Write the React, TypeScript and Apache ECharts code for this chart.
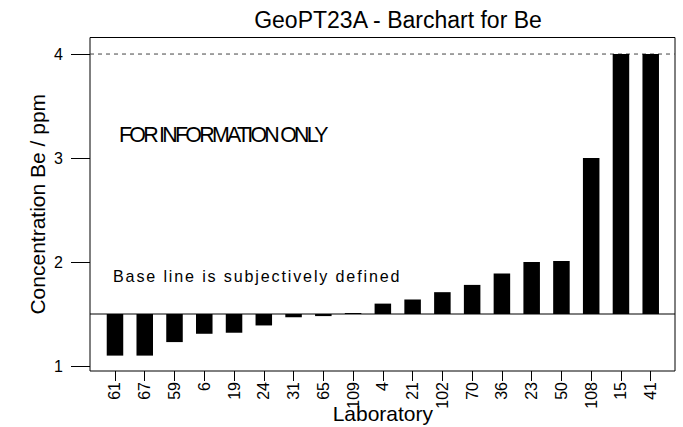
import React, { useEffect, useRef } from "react";
import * as echarts from "echarts";

// Laboratory codes, sorted by reported concentration
const laboratories = ["61", "67", "59", "6", "19", "24", "31", "65", "109", "4", "21", "102", "70", "36", "23", "50", "108", "15", "41"];
// Reported Be concentrations (ppm); values above the plotting cap are drawn at the cap
const concentrations = [1.1, 1.1, 1.23, 1.31, 1.32, 1.39, 1.47, 1.48, 1.51, 1.6, 1.64, 1.71, 1.78, 1.89, 2.0, 2.01, 3.0, 4.0, 4.0];
const yTickValues = [1, 2, 3, 4];
const baselineValue = 1.5;
const capValue = 4;
const yMin = 0.952;
const yMax = 4.159;

const FONT = '"Liberation Sans", Arial, Helvetica, sans-serif';

export default function App() {
  const ref = useRef<HTMLDivElement | null>(null);

  useEffect(() => {
    if (!ref.current) return;
    const chart = echarts.init(ref.current, undefined, { renderer: "svg" });

    const barData = laboratories.map((_, i) => [i, concentrations[i]]);

    const option: any = {
      animation: false,
      backgroundColor: "#ffffff",
      grid: [
        {
          left: 90,
          right: 8,
          top: 37.5,
          bottom: 56,
          show: true,
          borderColor: "#000",
          borderWidth: 1,
          backgroundColor: "transparent",
          containLabel: false,
          outerBoundsMode: "none",
        },
        { left: 100.1, right: 17.4, top: 37.5, bottom: 56, containLabel: false, outerBoundsMode: "none" },
      ],
      xAxis: [
        { type: "value", gridIndex: 0, min: 0, max: 1, show: false },
        {
          type: "category",
          gridIndex: 1,
          data: laboratories,
          boundaryGap: true,
          axisLine: { show: false },
          axisTick: { show: true, alignWithLabel: true, length: 10, lineStyle: { color: "#000", width: 1 } },
          axisLabel: { interval: 0, rotate: 90, margin: 11, fontSize: 16, color: "#000", fontFamily: FONT },
          splitLine: { show: false },
          name: "Laboratory",
          nameLocation: "middle",
          nameGap: 32,
          nameMoveOverlap: false,
          nameTextStyle: { fontSize: 21, color: "#000", fontFamily: FONT },
        },
      ],
      yAxis: [
        {
          type: "value",
          gridIndex: 0,
          min: yMin,
          max: yMax,
          axisLine: { show: false },
          axisTick: { show: true, length: 19, customValues: yTickValues, lineStyle: { color: "#000", width: 1 } },
          axisLabel: { customValues: yTickValues, margin: 27, fontSize: 16, color: "#000", fontFamily: FONT },
          splitLine: { show: false },
          name: "Concentration Be / ppm",
          nameLocation: "middle",
          nameGap: 42,
          nameMoveOverlap: false,
          nameTextStyle: { fontSize: 21, color: "#000", fontFamily: FONT },
        },
        { type: "value", gridIndex: 1, min: yMin, max: yMax, show: false },
      ],
      series: [
        {
          type: "custom",
          xAxisIndex: 1,
          yAxisIndex: 1,
          data: barData,
          encode: { x: 0, y: 1 },
          silent: true,
          renderItem: (params: any, api: any) => {
            const idx = api.value(0);
            const v = api.value(1);
            const p0 = api.coord([idx, baselineValue]);
            const p1 = api.coord([idx, v]);
            const w = api.size([1, 0])[0] * 0.555;
            return {
              type: "rect",
              shape: {
                x: p0[0] - w / 2,
                y: Math.min(p0[1], p1[1]),
                width: w,
                height: Math.abs(p1[1] - p0[1]),
              },
              style: { fill: "#000" },
            };
          },
        },
        {
          type: "line",
          xAxisIndex: 0,
          yAxisIndex: 0,
          data: [[0, baselineValue], [1, baselineValue]],
          symbol: "none",
          silent: true,
          lineStyle: { color: "#000", width: 1 },
          z: 5,
        },
        {
          type: "line",
          xAxisIndex: 0,
          yAxisIndex: 0,
          data: [[0, capValue], [1, capValue]],
          symbol: "none",
          silent: true,
          lineStyle: { color: "#444", width: 1, type: [4, 4] },
          z: 1,
        },
      ],
      graphic: [
        {
          type: "text",
          x: 398,
          y: 20,
          style: {
            text: "GeoPT23A - Barchart for Be",
            fontSize: 23,
            fontFamily: FONT,
            fill: "#000",
            align: "center",
            verticalAlign: "middle",
          },
        },
        {
          type: "text",
          x: 119,
          y: 135,
          style: {
            text: "FOR INFORMATION ONLY",
            fontSize: 21.4,
            fontFamily: FONT,
            fill: "#000",
            align: "left",
            verticalAlign: "middle",
          },
        },
        {
          type: "text",
          x: 113,
          y: 276,
          style: {
            text: "Base line is subjectively defined",
            fontSize: 16.1,
            fontFamily: FONT,
            fill: "#000",
            align: "left",
            verticalAlign: "middle",
          },
        },
      ],
    };

    chart.setOption(option);
    return () => {
      chart.dispose();
    };
  }, []);

  return (
    <div className="geo-chart" style={{ position: "absolute", left: 0, top: 0, width: 683, height: 427, background: "#fff" }}>
      <style>{`
        .geo-chart text[style*="21.4px"] { letter-spacing: -2.75px; }
        .geo-chart text[style*="16.1px"] { letter-spacing: 1.85px; }
      `}</style>
      <div ref={ref} style={{ width: 683, height: 427 }} />
    </div>
  );
}
